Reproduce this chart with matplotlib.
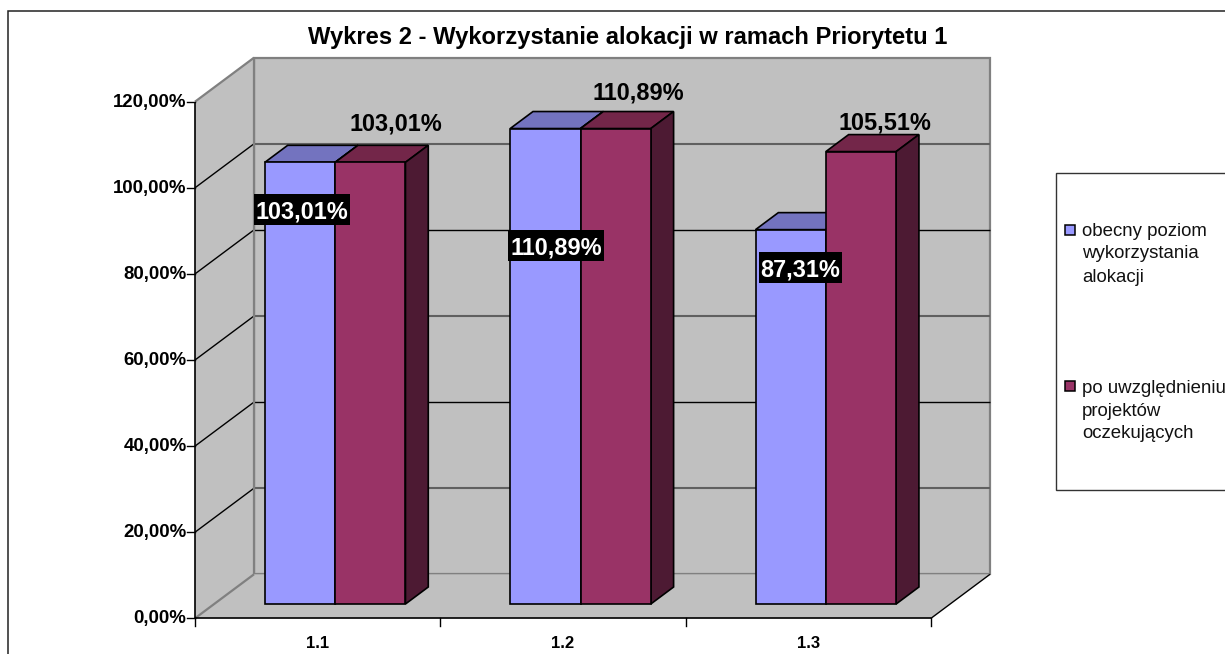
#!/usr/bin/env python
"""Wykres 2 - pseudo-3D column chart, Excel style, drawn on a flat axes."""
import matplotlib
matplotlib.use("Agg")
import matplotlib.pyplot as plt
from matplotlib.patches import Polygon, Rectangle

plt.rcParams["font.family"] = ["Liberation Sans", "DejaVu Sans"]

W, H = 1225, 654

TITLE = "Wykres 2 - Wykorzystanie alokacji w ramach Priorytetu 1"
CATEGORIES = ["1.1", "1.2", "1.3"]
OBECNY = [103.01, 110.89, 87.31]
PO_UWZGL = [103.01, 110.89, 105.51]
Y_TICKS = [0, 20, 40, 60, 80, 100, 120]
OBECNY_LABELS = ["103,01%", "110,89%", "87,31%"]
PO_UWZGL_LABELS = ["103,01%", "110,89%", "105,51%"]
LEGEND_1 = ["obecny poziom", "wykorzystania", "alokacji"]
LEGEND_2 = ["po uwzględnieniu", "projektów", "oczekujących"]

# label offsets from the top centre of the front face of each bar, pixels
LAB1_OFF = [(2, -47.5), (11, -116.5), (9.5, -37.5)]
LAB1_BOX_W = [96, 96, 83]
LAB1_BOX_H = 31
LAB2_OFF = [(25.5, 41), (22.5, 38.5), (24, 31.5)]

WALL = "#c0c0c0"
GREY = "#808080"
GRID_GREY = "#606060"
SERIES = [("#9999ff", "#7373bf"), ("#993366", "#732649")]
SIDE = "#4d1a33"

# front plane of the box in pixels
X0, X1, Y_TOP, Y_BOT = 195, 931, 101.7, 618.3
PX_X = 3 / (X1 - X0)
PX_Y = 120 / (Y_BOT - Y_TOP)
DX, DY = 59 * PX_X, 44 * PX_Y  # full depth of the box
D_FRONT, D_BACK = 14.3 / 44, 31.3 / 44  # depth of the bars inside the box
BAR_OFF, BAR_W = 50.7 * PX_X, 70.3 * PX_X
BAR_SCALE = 0.996  # bars sit further back, so they come out a touch shorter


def pr(x, v, d=0.0):
    return (x + d * DX, v + d * DY)


def poly(ax, pts, fc, ec="black", lw=1.2, z=2):
    ax.add_patch(Polygon(pts, closed=True, fc=fc, ec=ec, lw=lw, zorder=z,
                         joinstyle="miter", clip_on=False))


def line(ax, a, b, color="black", lw=1.0, z=1.5):
    ax.plot([a[0], b[0]], [a[1], b[1]], color=color, lw=lw, zorder=z,
            clip_on=False, solid_capstyle="butt")


def bar(ax, x, val, fc, top):
    val = val * BAR_SCALE
    fl, fr = x, x + BAR_W
    poly(ax, [pr(fl, val, D_FRONT), pr(fr, val, D_FRONT),
              pr(fr, val, D_BACK), pr(fl, val, D_BACK)], top)
    poly(ax, [pr(fr, 0, D_FRONT), pr(fr, val, D_FRONT),
              pr(fr, val, D_BACK), pr(fr, 0, D_BACK)], SIDE)
    poly(ax, [pr(fl, 0, D_FRONT), pr(fr, 0, D_FRONT),
              pr(fr, val, D_FRONT), pr(fl, val, D_FRONT)], fc)


def ftext(x, y, s, **kw):
    return fig.text(x / W, 1 - y / H, s, **kw)


fig = plt.figure(figsize=(W / 100, H / 100), dpi=100, facecolor="white")
ax = fig.add_axes([X0 / W, 1 - Y_BOT / H, (X1 - X0) / W, (Y_BOT - Y_TOP) / H])
ax.set_xlim(0, 3)
ax.set_ylim(0, 120)
ax.axis("off")

# outer frame runs off the right and bottom of the picture
fig.add_artist(Rectangle((8 / W, -0.1), 1.2, 1 - 11 / H + 0.1,
                         transform=fig.transFigure, fc="none", ec="#222222", lw=1.1))

# walls and floor
poly(ax, [pr(0, 0, 1), pr(3, 0, 1), pr(3, 120, 1), pr(0, 120, 1)], WALL, GREY, 1.6, 1)
poly(ax, [pr(0, 0), pr(0, 0, 1), pr(0, 120, 1), pr(0, 120)], WALL, "none", 0, 1)
poly(ax, [pr(0, 0), pr(3, 0), pr(3, 0, 1), pr(0, 0, 1)], WALL, "none", 0, 1)

# gridlines on both walls, back wall ones alternate black and grey
for t in Y_TICKS[1:-1]:
    if t in (40, 80):
        line(ax, pr(0, t, 1), pr(3, t, 1), "black", 1.0)
    else:
        line(ax, pr(0, t, 1), pr(3, t, 1), GRID_GREY, 1.5)
    line(ax, pr(0, t), pr(0, t, 1))
line(ax, pr(0, 120), pr(0, 120, 1), GREY, 1.6)
line(ax, pr(0, 0), pr(0, 0, 1), GREY, 1.6)
line(ax, pr(0, 0, 1), pr(0, 120, 1), GREY, 1.6)
line(ax, pr(3, 0), pr(3, 0, 1), "black", 1.0, 1.6)

# axes
line(ax, pr(0, 0), pr(0, 120), "black", 1.2, 1.8)
line(ax, pr(0, 0), pr(3, 0), "black", 1.2, 1.8)
for t in Y_TICKS:
    ax.plot([-8 * PX_X, 0], [t, t], color="black", lw=1.0, clip_on=False)
    ax.annotate(f"{t},00%", (0, t), xytext=(-8.5 * 0.72, 1.5 * 0.72),
                textcoords="offset points", ha="right", va="center_baseline",
                fontsize=13.4, fontweight="bold", annotation_clip=False)
for i in range(4):
    ax.plot([i, i], [0, -8 * PX_Y], color="black", lw=1.0, clip_on=False)

for i, cat in enumerate(CATEGORIES):
    ax.annotate(cat, (i + 0.5, 0), xytext=(0, -23.5 * 0.72),
                textcoords="offset points", ha="center", va="center_baseline",
                fontsize=12, fontweight="bold", annotation_clip=False)

# bars
for i in range(len(CATEGORIES)):
    x = i + BAR_OFF
    bar(ax, x, OBECNY[i], *SERIES[0])
    bar(ax, x + BAR_W, PO_UWZGL[i], *SERIES[1])

    cx, top = pr(x + BAR_W / 2, OBECNY[i] * BAR_SCALE, D_FRONT)
    ox, oy = LAB1_OFF[i]
    cx, cy = cx + ox * PX_X, top + oy * PX_Y
    bw, bh = LAB1_BOX_W[i] * PX_X, LAB1_BOX_H * PX_Y
    ax.add_patch(Rectangle((cx - bw / 2, cy - bh / 2), bw, bh, fc="black", ec="none",
                           zorder=5, clip_on=False))
    ax.text(cx, cy, OBECNY_LABELS[i], ha="center", va="center_baseline",
            fontsize=16.9, fontweight="bold", color="white", zorder=6, clip_on=False)

    cx, top = pr(x + 1.5 * BAR_W, PO_UWZGL[i] * BAR_SCALE, D_FRONT)
    ox, oy = LAB2_OFF[i]
    ax.text(cx + ox * PX_X, top + oy * PX_Y, PO_UWZGL_LABELS[i], ha="center",
            va="center_baseline", fontsize=16.9, fontweight="bold", color="black",
            zorder=6, clip_on=False)

ftext(628, 35, TITLE, ha="center", va="center_baseline", fontsize=17.1, fontweight="bold")

# legend box, cut by the right edge like the original
fig.add_artist(Rectangle((1056 / W, 1 - 490 / H), 1.0, 317 / H,
                         transform=fig.transFigure, fc="white", ec="#333333", lw=1.0))
for (swatch_y, lines_y, lines, col) in [(225, (229, 252, 276), LEGEND_1, SERIES[0][0]),
                                        (381, (386, 410, 432), LEGEND_2, SERIES[1][0])]:
    fig.add_artist(Rectangle((1065 / W, 1 - (swatch_y + 10) / H), 10 / W, 10 / H,
                             transform=fig.transFigure, fc=col, ec="black", lw=1.1))
    for ly, s in zip(lines_y, lines):
        ftext(1082, ly, s, ha="left", va="center_baseline", fontsize=13.4, color="#111111")

fig.savefig("out.png", dpi=100)
